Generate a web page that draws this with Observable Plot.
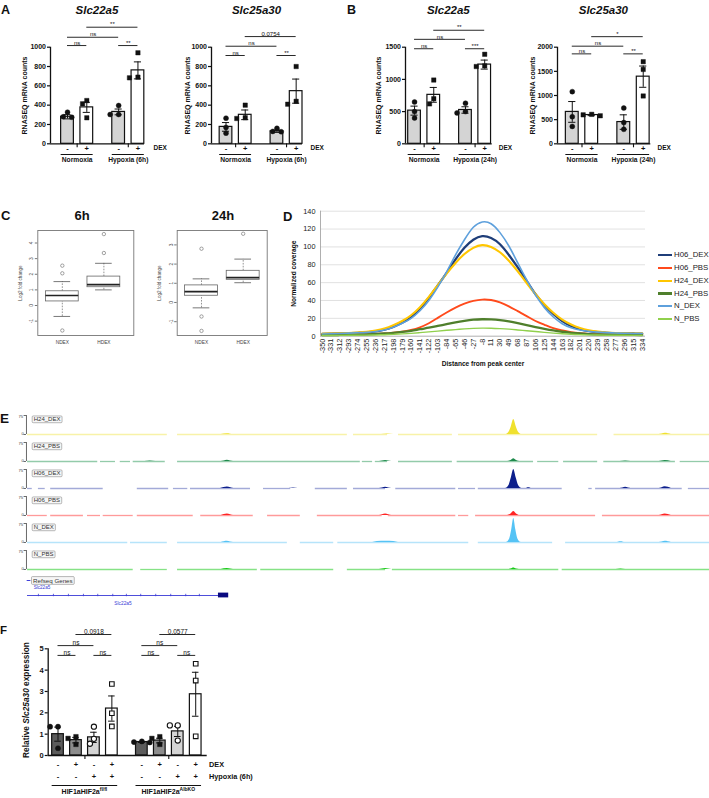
<!DOCTYPE html>
<html>
<head>
<meta charset="utf-8">
<script src="https://cdn.jsdelivr.net/npm/d3@7"></script>
<script src="https://cdn.jsdelivr.net/npm/@observablehq/plot@0.6"></script>
<style>
  html, body { margin: 0; padding: 0; background: #fff; }
  #fig { position: relative; width: 709px; height: 798px; overflow: hidden; background: #fff;
         font-family: "Liberation Sans", Arial, sans-serif; color: #111; }
  #fig svg { max-width: none !important; display: block; }
</style>
</head>
<body>
<div id="fig"></div>
<script>
// ===================== DATA =====================
// Panels A & B : RNA-seq counts (bar = mean, whisker = SEM, dots = replicates)
const dexSigns = ["-", "+", "-", "+"];
const groups6h = ["Normoxia", "Hypoxia (6h)"];
const groups24h = ["Normoxia", "Hypoxia (24h)"];
const geneTitles = ["Slc22a5", "Slc25a30", "Slc22a5", "Slc25a30"];
const countTitle = "RNASEQ mRNA counts";
const ticks1000 = [0, 200, 400, 600, 800, 1000];
const ticks1500 = [0, 500, 1000, 1500];
const ticks2000 = [0, 500, 1000, 1500, 2000];

const a1Mean = [280, 377, 330, 760];
const a1Sem = [22, 52, 30, 88];
const a1Pts = [[327, 280, 275], [448, 414, 269], [396, 303, 303], [942, 683, 690]];
const a1Sig = [[0, 1, "ns", 1017], [0, 2, "ns", 1103], [1, 3, "**", 1207], [2, 3, "**", 1017]];

const a2Mean = [175, 300, 130, 545];
const a2Sem = [45, 50, 12, 125];
const a2Pts = [[265, 170, 110], [400, 270, 262], [160, 128, 125], [800, 440, 410]];
const a2Sig = [[0, 1, "ns", 914], [0, 2, "ns", 1010], [1, 3, "0.0754", 1110], [2, 3, "**", 914]];

const b1Mean = [515, 760, 525, 1230];
const b1Sem = [70, 115, 50, 70];
const b1Pts = [[650, 500, 400], [990, 700, 620], [630, 500, 480], [1390, 1210, 1200]];
const b1Sig = [[0, 1, "ns", 1476], [0, 2, "ns", 1622], [1, 3, "**", 1763], [2, 3, "***", 1476]];

const b2Mean = [660, 595, 450, 1390];
const b2Sem = [215, 12, 150, 220];
const b2Pts = [[1080, 560, 360], [610, 600, 580], [740, 440, 300], [1700, 1540, 990]];
const b2Sig = [[0, 1, "ns", 1862], [0, 2, "ns", 2021], [1, 3, "*", 2218], [2, 3, "**", 1862]];

// Panel C : box plots of log2 fold change
const cGroups = ["NDEX", "HDEX"];
const cTimes = ["6h", "24h"];
const cTitle = "Log2 fold change";
const c6Low = [-0.7, 1.0], c6Q1 = [0.26, 1.17], c6Med = [0.64, 1.34], c6Q3 = [0.91, 1.85], c6High = [1.53, 2.7];
const c6Out = [[2.55, 2.06, -1.6], [3.36, 4.57]];
const c6Ticks = [-1, 0, 1, 2, 3, 4];
const c24Low = [-0.28, 1.03], c24Q1 = [0.35, 1.18], c24Med = [0.57, 1.29], c24Q3 = [0.89, 1.65], c24High = [1.23, 2.26];
const c24Out = [[2.8, -0.73, -1.48], [3.58]];
const c24Ticks = [-1, 0, 1, 2, 3];

// Panel D : coverage profiles around peak centers
const dDist = [-350, -331, -312, -293, -274, -255, -236, -217, -198, -179, -160, -141, -122, -103, -84, -65, -46, -27, -8,
               11, 30, 49, 68, 87, 106, 125, 144, 163, 182, 201, 220, 239, 258, 277, 296, 315, 334];
const dSeries = ["H06_DEX", "H06_PBS", "H24_DEX", "H24_PBS", "N_DEX", "N_PBS"];
const dH06DEX = [2.5, 2.8, 3.1, 3.4, 3.8, 4.2, 5.3, 7.3, 10.5, 15, 21, 31, 43, 57, 71, 86, 99, 108, 112, 110, 103, 91, 77, 62, 47, 35, 25, 17, 11.5, 8, 5.7, 4.5, 3.8, 3.4, 3.2, 3, 2.9];
const dH06PBS = [1.5, 1.6, 1.7, 1.8, 2, 2.3, 2.5, 3, 3.8, 5, 7, 10, 14.5, 20.5, 26.5, 32, 36.5, 39.5, 41, 40.5, 38, 33.5, 28, 22.5, 17, 12.8, 9, 6.5, 4.5, 3.3, 2.6, 2.2, 2, 1.8, 1.7, 1.6, 1.5];
const dH24DEX = [2.8, 3, 3.3, 3.5, 4, 4.8, 6.3, 8.5, 12.2, 17, 23.5, 32.5, 44, 57, 70, 82, 92, 99, 102, 100, 94, 84.5, 72.5, 59.6, 47, 35.8, 26.2, 18.6, 13.1, 9.2, 6.7, 5.1, 4.1, 3.6, 3.3, 3.1, 3];
const dH24PBS = [1.2, 1.3, 1.4, 1.6, 1.8, 2.1, 2.5, 3, 3.8, 4.8, 6, 7.8, 9.5, 11.5, 13.5, 15.5, 17.2, 18.5, 19, 18.8, 18, 16.5, 14.6, 12.5, 10.3, 8.3, 6.5, 5, 3.8, 3, 2.4, 2, 1.8, 1.6, 1.5, 1.4, 1.3];
const dNDEX = [2.5, 2.8, 3.1, 3.4, 3.8, 4.3, 5.3, 7, 10, 14.5, 20, 28.5, 40, 55, 72, 91, 108, 122, 128, 126, 116, 101, 82, 63, 46, 32, 21.5, 14, 9.5, 7, 5.5, 4.6, 4, 3.6, 3.3, 3.1, 3];
const dNPBS = [0.8, 0.8, 0.9, 1, 1.1, 1.2, 1.4, 1.7, 2.1, 2.6, 3.2, 4, 4.8, 5.7, 6.6, 7.4, 8.2, 8.8, 9, 8.9, 8.5, 7.9, 7, 6.1, 5.2, 4.3, 3.5, 2.8, 2.2, 1.8, 1.5, 1.3, 1.1, 1, 1, 0.9, 0.9];
const dValues = [dH06DEX, dH06PBS, dH24DEX, dH24PBS, dNDEX, dNPBS];
const dYTicks = [0, 20, 40, 60, 80, 100, 120, 140];
const dXTitle = "Distance from peak center";
const dYTitle = "Normalized coverage";

// Panel E : genome browser tracks (genome position in kb from window start; signal on 0-75 scale)
const eTracks = ["H24_DEX", "H24_PBS", "H06_DEX", "H06_PBS", "N_DEX", "N_PBS"];
const eScaleLabels = ["75", "0"];
const eCovH24DEX = [[0,20.5],[22,46.9],[47.8,52.8],[54.4,62.3],[63.2,83.6],[86,100]];
const eCovH24PBS = [[0,10.3],[10.7,12.9],[13.6,15.1],[15.5,20.2],[22,48.8],[49.1,50.6],[51,52.8],[54.4,62.3],[63,74.2],[74.8,77.9],[78.6,83.6],[84.5,95],[95.7,100]];
const eCovH06DEX = [[0,0.7],[1.6,2.6],[3.4,11.1],[16.1,20.7],[21.4,23.5],[23.9,32.7],[34.6,38.6],[42.2,46.9],[47.8,52.5],[54,62.8],[63.2,65.7],[66.1,78.4],[82.3,82.8],[83.3,96],[96.9,100]];
const eCovH06PBS = [[0,2.9],[3.4,8.2],[8.8,10.7],[11.1,15.5],[16.1,24.3],[25.4,33.1],[35.2,40],[42.5,52],[52.9,62.8],[63.2,64.7],[65.7,83.3],[84.3,100]];
const eCovNDEX = [[0,14.7],[15.1,20.5],[22,38.1],[40,44.9],[45.5,64.7],[66.1,77],[78.9,100]];
const eCovNPBS = [[0,15.5],[16.6,20.5],[22,33.7],[34.2,44.9],[46.9,52.5],[53.5,77.9],[78.4,100]];
const eSigH24DEX = [[28.4,0],[29.3,3],[30.2,0],[51.9,0],[52.8,2],[53.7,0],[70.1,0],[70.6,9],[70.95,32],[71.3,59],[71.65,32],[72,9],[72.5,0],[92.6,0],[93.5,5],[94.4,0]];
const eSigH24PBS = [[17.2,0],[18,2],[18.8,0],[28.4,0],[29.3,5],[30.2,0],[51.6,0],[52.5,4],[53.4,0],[70.4,0],[70.9,4],[71.3,11],[71.7,4],[72.2,0],[86.9,0],[87.7,2],[88.5,0],[92.6,0],[93.5,4],[94.4,0]];
const eSigH06DEX = [[28.3,0],[29.3,6],[30.3,0],[38.3,0],[39,2],[39.7,0],[51.6,0],[52.5,5],[53.4,0],[70.1,0],[70.6,12],[70.95,42],[71.3,75],[71.65,42],[72,12],[72.5,0],[73,0],[73.5,3],[74,0],[86.9,0],[87.7,5],[88.5,0],[92.6,0],[93.5,7],[94.4,0]];
const eSigH06PBS = [[28.4,0],[29.3,6],[30.2,0],[51.6,0],[52.5,6],[53.4,0],[70.4,0],[70.9,6],[71.3,16],[71.7,6],[72.2,0],[92.6,0],[93.5,6],[94.4,0]];
const eSigNDEX = [[28.4,0],[29.3,5],[30.2,0],[50.6,0],[51.3,4],[52.5,5],[53.7,4],[54.4,0],[70.2,0],[70.7,14],[71,50],[71.3,95],[71.6,50],[71.9,14],[72.4,0],[86.3,0],[87,3],[87.7,0],[92.6,0],[93.5,5],[94.4,0]];
const eSigNPBS = [[28.4,0],[29.3,4],[30.2,0],[51.6,0],[52.5,4],[53.4,0],[70.5,0],[70.9,2],[71.3,6],[71.7,2],[72.1,0],[86.3,0],[87,2],[87.7,0]];
const eCov = [eCovH24DEX, eCovH24PBS, eCovH06DEX, eCovH06PBS, eCovNDEX, eCovNPBS];
const eSig = [eSigH24DEX, eSigH24PBS, eSigH06DEX, eSigH06PBS, eSigNDEX, eSigNPBS];
const refTrackLabel = "Refseq Genes";
const refGeneName = "Slc22a5";
const refGeneSpan = [0, 28];
const refGeneExons = [[28, 29.5]];
const refIntronMarks = [1.6, 3.8, 6, 8.2, 10.3, 12.5, 14.5, 16.6, 18.8, 21, 23.2, 25.2];

// Panel F : qPCR Slc25a30
const fDex = ["-", "+", "-", "+", "-", "+", "-", "+"];
const fHyp = ["-", "-", "+", "+", "-", "-", "+", "+"];
const fRowLabels = ["DEX", "Hypoxia (6h)"];
const fGenotypes = [["HIF1aHIF2a", "fl/fl"], ["HIF1aHIF2a", "AlbKO"]];
const fMean = [1.0, 0.72, 0.85, 2.2, 0.63, 0.7, 1.13, 2.87];
const fSem = [0.33, 0.13, 0.24, 0.59, 0.02, 0.11, 0.24, 1.03];
const fPts = [[1.35, 1.35, 0.34], [0.88, 0.8, 0.52], [1.35, 0.78, 0.55], [3.35, 1.98, 1.36],
              [0.66, 0.63, 0.61], [0.88, 0.8, 0.52], [1.41, 1.41, 0.7], [4.3, 3.51, 0.9]];
const fSig = [[0, 1, "ns", 4.69], [2, 3, "ns", 4.69], [0, 2, "ns", 5.15], [1, 3, "0.0918", 5.67],
              [4, 5, "ns", 4.69], [6, 7, "ns", 4.69], [4, 6, "ns", 5.15], [5, 7, "0.0577", 5.67]];
const fTicks = [0, 1, 2, 3, 4, 5];

// ===================== STYLE =====================
const FONT = '"Liberation Sans", Arial, Helvetica, sans-serif';
const dColors = ["#1F3E79", "#FF4A1C", "#FFC600", "#4F7F2C", "#5EA0DC", "#90D04C"];
const dWidths = [2.3, 1.9, 2.1, 2.3, 1.6, 1.4];
const eColors = ["#f0e12e", "#1f8a4c", "#0d1f8c", "#ff2424", "#55c3f5", "#19c919"];
const eLight = ["#f8f2a8", "#93cbaa", "#a3aad8", "#ff9a9a", "#b6e4fa", "#86e286"];
const abFills = ["#d4d4d4", "#ffffff"];
const fFills = ["#5c5c5c", "#8c8c8c", "#d4d4d4", "#ffffff"];

// ===================== HELPERS =====================
const fig = document.getElementById("fig");
function place(node, left, top, w) {
  const d = document.createElement("div");
  d.style.position = "absolute"; d.style.left = left + "px"; d.style.top = top + "px";
  if (w) d.style.width = w + "px";
  d.appendChild(node); fig.appendChild(d); return node;
}
function html(str, css) {
  const d = document.createElement("div");
  d.innerHTML = str;
  Object.assign(d.style, {position: "absolute", whiteSpace: "nowrap", fontFamily: FONT, lineHeight: "1", color: "#111"}, css);
  fig.appendChild(d); return d;
}
function textAt(str, x, baseline, fs, css = {}) {
  return html(str, Object.assign({left: x + "px", top: (baseline - 0.8465 * fs) + "px", fontSize: fs + "px"}, css));
}
const baseStyle = {fontFamily: FONT, background: "transparent", overflow: "visible", color: "#111"};

function barPanel(c) {
  const pos = c.mean.map((_, i) => Math.floor(i / c.nPer) * (c.nPer + c.gap) + (i % c.nPer));
  const [xLo, xHi] = c.xDom;
  const plotH = c.height - c.mTop - c.mBottom;
  const pxX = c.plotW / (xHi - xLo), pxY = plotH / c.yMax;
  const half = c.bw / 2, cap = c.bw * 0.28;
  const bars = c.mean.map((m, i) => ({x: pos[i], m, s: c.sem[i], fill: c.fills[i % c.fills.length]}));
  const dots = [];
  c.pts.forEach((arr, i) => {
    const placed = [];
    arr.slice().sort((a, b) => b - a).forEach(v => {
      let off = 0;
      for (const o of [0, -0.22, 0.22, -0.44, 0.44]) {
        if (placed.every(p => Math.hypot((p.o - o) * pxX, (p.v - v) * pxY) >= 5.2)) { off = o; break; }
      }
      placed.push({o: off, v});
      dots.push({x: pos[i] + off, v, sym: c.symbols[i % c.symbols.length], open: c.open[i % c.open.length]});
    });
  });
  const groups = c.groups.map((label, g) => {
    const a = pos[g * c.nPer], b = pos[g * c.nPer + c.nPer - 1];
    return {label, a, b, c: (a + b) / 2};
  });
  const tick = 4 / pxY;
  const marks = [
    Plot.rect(bars, {x1: d => d.x - half, x2: d => d.x + half, y1: () => 0, y2: "m", fill: "fill", stroke: "#111", strokeWidth: 1.2}),
    Plot.ruleX(bars, {x: "x", y1: d => d.m - d.s, y2: d => d.m + d.s, stroke: "#111", strokeWidth: 1}),
    Plot.ruleY(bars, {y: d => d.m + d.s, x1: d => d.x - cap, x2: d => d.x + cap, stroke: "#111", strokeWidth: 1}),
    Plot.ruleY(bars, {y: d => d.m - d.s, x1: d => d.x - cap, x2: d => d.x + cap, stroke: "#111", strokeWidth: 1})
  ];
  for (const sym of ["circle", "square"]) for (const open of [false, true]) {
    const sub = dots.filter(d => d.sym === sym && d.open === open);
    if (sub.length) marks.push(Plot.dot(sub, {x: "x", y: "v", symbol: sym, r: c.r,
      fill: open ? "white" : "#111", stroke: "#111", strokeWidth: open ? 1.1 : 0.4}));
  }
  marks.push(
    Plot.ruleX([xLo], {x: d => d, y1: () => 0, y2: () => c.yMax, stroke: "#111", strokeWidth: 1.3}),
    Plot.ruleY([0], {y: d => d, x1: () => xLo, x2: () => xHi, stroke: "#111", strokeWidth: 1.3}),
    Plot.ruleX(groups, {x: "c", y1: () => 0, y2: () => -tick, stroke: "#111", strokeWidth: 1.1}),
    Plot.axisY({ticks: c.yTicks, tickSize: 3, tickPadding: 1.5, tickFormat: d => String(d),
                fontSize: c.tickFont, fontWeight: "bold", label: null, strokeWidth: 1.2})
  );
  c.signRows.forEach((row, r) => {
    marks.push(Plot.text(row.map((s, i) => ({s, x: pos[i]})), {x: "x", y: () => 0, text: "s", dy: c.rowDy[r], fontSize: c.signFont, fontWeight: "bold"}));
    marks.push(Plot.text([c.rowLabels[r]], {x: () => xHi, y: () => 0, text: d => d, dx: c.rowDx, dy: c.rowDy[r], textAnchor: "start", fontSize: c.rowFont, fontWeight: "bold"}));
  });
  marks.push(Plot.ruleY(groups, {y: () => 0, x1: g => g.a - half, x2: g => g.b + half, dy: c.ulDy, stroke: "#111", strokeWidth: 1}));
  if (!c.htmlGroups) marks.push(Plot.text(groups, {x: "c", y: () => 0, text: "label", dy: c.glDy, fontSize: c.groupFont, fontWeight: "bold"}));
  marks.push(
    Plot.ruleY(c.sig, {y: d => d[3], x1: d => pos[d[0]], x2: d => pos[d[1]], stroke: "#111", strokeWidth: 0.9}),
    Plot.text(c.sig, {x: d => (pos[d[0]] + pos[d[1]]) / 2, y: d => d[3], text: d => d[2], dy: -0.8, lineAnchor: "bottom", fontSize: c.sigFont})
  );
  if (c.ytitle) marks.push(Plot.text([c.ytitle], {x: () => xLo, y: () => c.yMax / 2, text: d => d, dx: c.ytitleDx, rotate: -90, fontSize: 7, fontWeight: "bold"}));
  const p = Plot.plot({
    width: c.width, height: c.height,
    marginLeft: c.mLeft, marginRight: c.width - c.mLeft - c.plotW, marginTop: c.mTop, marginBottom: c.mBottom,
    x: {domain: c.xDom, axis: null}, y: {domain: [0, c.yMax], axis: null},
    color: {type: "identity"}, style: baseStyle, marks
  });
  place(p, c.left, c.top, c.width);
  return {p, pos, groups, center: c.left + c.mLeft + c.plotW / 2};
}

const abCommon = {width: 175, height: 168, mLeft: 50, mTop: 46.7, mBottom: 24.7, nPer: 2, gap: 0.65, bw: 0.66,
  fills: abFills, symbols: ["circle", "square"], open: [false], r: 2.5, signRows: [dexSigns], rowDy: [4.6],
  rowLabels: ["DEX"], ulDy: 10.7, glDy: 16.3, tickFont: 7, signFont: 7.5, rowFont: 6.5, groupFont: 6.7, sigFont: 6, ytitle: countTitle};

const A1 = barPanel({...abCommon, left: 0, top: 0, plotW: 94, xDom: [-0.881, 3.99], yMax: 1000, yTicks: ticks1000,
  mean: a1Mean, sem: a1Sem, pts: a1Pts, sig: a1Sig, groups: groups6h, rowDx: 9, ytitleDx: -25.5});
const A2 = barPanel({...abCommon, left: 161, top: 0, plotW: 91, xDom: [-0.755, 3.98], yMax: 1000, yTicks: ticks1000,
  mean: a2Mean, sem: a2Sem, pts: a2Pts, sig: a2Sig, groups: groups6h, rowDx: 8, ytitleDx: -24});
const B1 = barPanel({...abCommon, left: 355, top: 0, plotW: 86.7, xDom: [-0.47, 4.04], yMax: 1500, yTicks: ticks1500,
  mean: b1Mean, sem: b1Sem, pts: b1Pts, sig: b1Sig, groups: groups24h, rowDx: 6.6, ytitleDx: -27});
const B2 = barPanel({...abCommon, left: 506.7, top: 0, plotW: 93.3, xDom: [-0.76, 4.04], yMax: 2000, yTicks: ticks2000,
  mean: b2Mean, sem: b2Sem, pts: b2Pts, sig: b2Sig, groups: groups24h, rowDx: 6.7, ytitleDx: -24.5});

[A1, A2, B1, B2].forEach((P, i) => textAt(geneTitles[i], P.center, 15, 11.5,
  {transform: "translateX(-50%)", fontWeight: "bold", fontStyle: "italic"}));

// ---------- Panel C ----------
function boxPanel(c) {
  const rows = cGroups.map((g, i) => ({g, x: i + 1, low: c.low[i], q1: c.q1[i], med: c.med[i], q3: c.q3[i], high: c.high[i]}));
  const outs = c.out.flatMap((arr, i) => arr.map(v => ({x: i + 1, v})));
  const bw = 0.79, cw = 0.2;
  const p = Plot.plot({
    width: 140, height: 160, marginLeft: c.mLeft, marginRight: 140 - c.mLeft - c.plotW, marginTop: 30, marginBottom: 25,
    x: {domain: c.xDom, axis: null}, y: {domain: c.yDom, axis: null}, style: baseStyle,
    marks: [
      Plot.frame({stroke: "#777", strokeWidth: 0.9}),
      Plot.ruleX(rows, {x: "x", y1: "q3", y2: "high", stroke: "#666", strokeWidth: 0.7, strokeDasharray: "1.6,1.3"}),
      Plot.ruleX(rows, {x: "x", y1: "low", y2: "q1", stroke: "#666", strokeWidth: 0.7, strokeDasharray: "1.6,1.3"}),
      Plot.ruleY(rows, {y: "high", x1: d => d.x - cw, x2: d => d.x + cw, stroke: "#555", strokeWidth: 0.8}),
      Plot.ruleY(rows, {y: "low", x1: d => d.x - cw, x2: d => d.x + cw, stroke: "#555", strokeWidth: 0.8}),
      Plot.rect(rows, {x1: d => d.x - bw / 2, x2: d => d.x + bw / 2, y1: "q1", y2: "q3", fill: "white", stroke: "#666", strokeWidth: 0.8}),
      Plot.ruleY(rows, {y: "med", x1: d => d.x - bw / 2, x2: d => d.x + bw / 2, stroke: "#222", strokeWidth: 1.7}),
      Plot.dot(outs, {x: "x", y: "v", r: 1.7, stroke: "#666", strokeWidth: 0.6, fill: "none"}),
      Plot.axisY({ticks: c.ticks, tickSize: 2.5, tickPadding: 2, tickRotate: -90, tickFormat: d => String(d), fontSize: 4.8, label: null, stroke: "#777", fill: "#444"}),
      Plot.text(rows, {x: "x", frameAnchor: "bottom", text: "g", dy: 8.5, fontSize: 4.8, fill: "#444"}),
      Plot.text([cTitle], {x: () => c.xDom[0], y: () => (c.yDom[0] + c.yDom[1]) / 2, text: d => d, dx: c.titleDx, rotate: -90, fontSize: 4.6, fill: "#444"})
    ]
  });
  place(p, c.left, 200, 140);
}
boxPanel({left: 0, mLeft: 37.3, plotW: 96, xDom: [0.41, 2.72], yDom: [-1.92, 4.8], ticks: c6Ticks,
  low: c6Low, q1: c6Q1, med: c6Med, q3: c6Q3, high: c6High, out: c6Out, titleDx: -17.6});
boxPanel({left: 140, mLeft: 36.7, plotW: 90, xDom: [0.417, 2.576], yDom: [-1.72, 3.75], ticks: c24Ticks,
  low: c24Low, q1: c24Q1, med: c24Med, q3: c24Q3, high: c24High, out: c24Out, titleDx: -17.6});
textAt(cTimes[0], 82, 220, 13, {transform: "translateX(-50%)", fontWeight: "bold"});
textAt(cTimes[1], 223, 220, 13, {transform: "translateX(-50%)", fontWeight: "bold"});

// ---------- Panel D ----------
const dX0 = -353.6, dX1 = 341;
const dMarks = [
  Plot.ruleY(dYTicks.filter(t => t > 0), {y: d => d, stroke: "#d9d9d9", strokeWidth: 0.8}),
  Plot.ruleY([0], {y: d => d, stroke: "#a6a6a6", strokeWidth: 0.9}),
  Plot.ruleX([dX0], {x: d => d, stroke: "#a6a6a6", strokeWidth: 0.9})
];
dSeries.forEach((name, k) => {
  const rows = dDist.map((x, i) => ({x, v: dValues[k][i]}));
  dMarks.push(Plot.line(rows, {x: "x", y: "v", stroke: dColors[k], strokeWidth: dWidths[k], curve: "natural"}));
});
dMarks.push(
  Plot.axisY({ticks: dYTicks, tickSize: 0, tickPadding: 5, tickFormat: d => String(d), fontSize: 7.3, label: null, fill: "#222"}),
  Plot.axisX({ticks: dDist, tickSize: 0, tickPadding: 2.5, tickRotate: -90, tickFormat: d => String(d), fontSize: 7.3, label: null, fill: "#222"}),
  Plot.text([dXTitle], {x: () => (dX0 + dX1) / 2, y: () => 0, text: d => d, dy: 27.6, fontWeight: "bold", fontSize: 6.6}),
  Plot.text([dYTitle], {x: () => dX0, y: () => 70, text: d => d, dx: -27, rotate: -90, fontWeight: "bold", fontSize: 6.6})
);
const Dp = Plot.plot({
  width: 365, height: 170, marginLeft: 37, marginRight: 3, marginTop: 10.7, marginBottom: 34.3,
  x: {domain: [dX0, dX1], axis: null}, y: {domain: [0, 140], axis: null}, style: baseStyle, marks: dMarks
});
place(Dp, 283, 200, 365);
dSeries.forEach((name, k) => {
  const y = 255 + k * 12.8;
  html("", {left: "658px", top: (y - dWidths[k] / 2) + "px", width: "14px", height: dWidths[k] + "px", background: dColors[k]});
  textAt(name, 674, y + 2.8, 7.8, {color: "#222"});
});

// ---------- Panel E ----------
const covRows = eTracks.flatMap((t, k) => eCov[k].map(([a, b]) => ({t, k, a, b})));
const sigRows = eTracks.flatMap((t, k) => eSig[k].map(([x, v]) => ({t, k, x, v})));
const Ep = Plot.plot({
  width: 709, height: 172, marginLeft: 27, marginRight: 0, marginTop: 7.3, marginBottom: 2.7,
  x: {domain: [0, 100], axis: null}, y: {domain: [0, 106.6], axis: null},
  fy: {domain: eTracks, axis: null, padding: 0}, color: {type: "identity"}, style: baseStyle,
  marks: [
    Plot.ruleY(covRows, {fy: "t", y: () => 0, x1: "a", x2: "b", stroke: d => eLight[d.k], strokeWidth: 1.3}),
    Plot.areaY(sigRows, {fy: "t", x: "x", y1: () => 0, y2: "v", z: "t", fill: d => eColors[d.k], curve: "monotone-x"}),
    Plot.ruleX([0], {x: () => -0.15, y1: () => 0, y2: () => 75, stroke: "#444", strokeWidth: 0.8}),
    Plot.ruleY([75, 0], {y: d => d, x1: () => -0.5, x2: () => -0.15, stroke: "#444", strokeWidth: 0.8}),
    Plot.text([eScaleLabels[0]], {x: () => -0.65, y: () => 75, text: d => d, textAnchor: "end", lineAnchor: "top", fontSize: 4.2, fill: "#444"}),
    Plot.text([eScaleLabels[1]], {x: () => -0.55, y: () => 0, text: d => d, textAnchor: "end", lineAnchor: "bottom", fontSize: 4.2, fill: "#444"}),
    Plot.text(eTracks, {fy: d => d, x: () => 0.92, y: () => 59.6, text: d => d, textAnchor: "start", fontSize: 6, fill: "#333"})
  ]
});
place(Ep, 0, 400, 709);
const Gp = Plot.plot({
  width: 709, height: 40, marginLeft: 27, marginRight: 0, marginTop: 0, marginBottom: 0,
  x: {domain: [0, 100], axis: null}, y: {domain: [0, 40], range: [0, 40], axis: null}, style: baseStyle,
  marks: [
    Plot.ruleY([refTrackLabel], {y: () => 8, x1: () => -0.05, x2: () => 0.5, stroke: "#2b2bd6", strokeWidth: 0.9}),
    Plot.text([refTrackLabel], {x: () => 0.82, y: () => 8.5, text: d => d, textAnchor: "start", fontSize: 6.2, fill: "#333"}),
    Plot.text([refGeneName], {x: () => 0.9, y: () => 15.5, text: d => d, textAnchor: "start", fontSize: 4.6, fill: "#3a3ad6"}),
    Plot.ruleY([refGeneSpan], {y: () => 23, x1: d => d[0], x2: d => d[1], stroke: "#3a3ad6", strokeWidth: 0.9}),
    Plot.ruleX(refIntronMarks, {x: d => d, y1: () => 21.8, y2: () => 24.2, stroke: "#3a3ad6", strokeWidth: 0.8}),
    Plot.rect(refGeneExons, {x1: d => d[0], x2: d => d[1], y1: () => 20.6, y2: () => 25.4, fill: "#0a0a80"}),
    Plot.text([refGeneName], {x: () => (refGeneSpan[0] + refGeneSpan[1]) / 2, y: () => 30.5, text: d => d, fontSize: 4.8, fill: "#3a3ad6"})
  ]
});
place(Gp, 0, 572, 709);
function boxLabels(svg, labels) {
  const set = new Set(labels);
  svg.querySelectorAll("text").forEach(t => {
    if (!set.has(t.textContent)) return;
    const b = t.getBBox();
    const r = document.createElementNS("http://www.w3.org/2000/svg", "rect");
    r.setAttribute("x", b.x - 1.6); r.setAttribute("y", b.y - 0.4);
    r.setAttribute("width", b.width + 3.2); r.setAttribute("height", b.height + 0.8);
    r.setAttribute("rx", 1); r.setAttribute("fill", "#f6f6f6"); r.setAttribute("stroke", "#8a8a8a"); r.setAttribute("stroke-width", 0.6);
    const tr = t.getAttribute("transform"); if (tr) r.setAttribute("transform", tr);
    t.parentNode.insertBefore(r, t);
  });
}
boxLabels(Ep, eTracks);
boxLabels(Gp, [refTrackLabel]);

// ---------- Panel F ----------
const F = barPanel({width: 260, height: 178, left: 0, top: 620, mLeft: 47.7, mTop: 28.3, mBottom: 43, plotW: 159,
  xDom: [-0.546, 8.31], yMax: 5, yTicks: fTicks, nPer: 4, gap: 0.67, bw: 0.65, fills: fFills,
  symbols: ["circle", "square", "circle", "square"], open: [false, false, true, true], r: 2.6,
  mean: fMean, sem: fSem, pts: fPts, sig: fSig, groups: fGenotypes.map(g => g.join("")),
  signRows: [fDex, fHyp], rowDy: [9.3, 21], rowLabels: fRowLabels, rowDx: 1.8, ulDy: 30, htmlGroups: true,
  tickFont: 7.5, signFont: 7.5, rowFont: 7.3, groupFont: 7, sigFont: 6.5, ytitle: null});
F.groups.forEach((g, i) => {
  const x = 0 + F.p.scale("x").apply(g.c);
  textAt(`${fGenotypes[i][0]}<sup style="font-size:5px;vertical-align:3px;line-height:0">${fGenotypes[i][1]}</sup>`,
    x, 793.5, 7, {transform: "translateX(-50%)", fontWeight: "bold"});
});
html("Relative <i>Slc25a30</i> expression", {left: "25.8px", top: "700px", fontSize: "8.3px", fontWeight: "bold",
  transform: "translate(-50%,-50%) rotate(-90deg)"});

// ---------- panel letters ----------
[["A", 1, 14.3, 12.5], ["B", 347, 14.3, 12.5], ["C", 1, 220, 13], ["D", 283, 221, 13], ["E", 0, 423, 13.5], ["F", 0, 635, 11.5]]
  .forEach(([t, x, b, fs]) => textAt(t, x, b, fs, {fontWeight: "bold"}));
</script>
</body>
</html>
